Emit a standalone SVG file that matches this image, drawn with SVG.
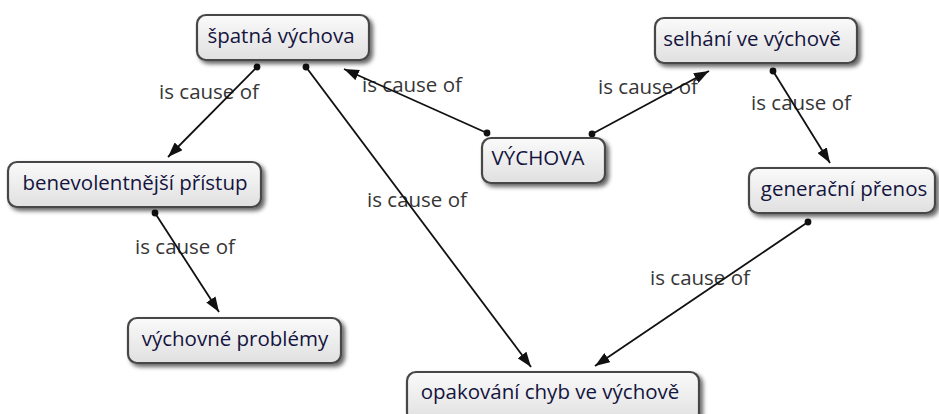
<svg xmlns="http://www.w3.org/2000/svg" width="939" height="414" viewBox="0 0 939 414">
<style>
.box{fill:url(#g);stroke:#474747;stroke-width:2.2;filter:url(#sh)}
.nt{font-family:"Open Sans","DejaVu Sans",sans-serif;font-size:20.5px;fill:#14143e;text-anchor:middle}
.lt{font-family:"Open Sans","DejaVu Sans",sans-serif;font-size:20.5px;fill:#363636;text-anchor:middle}
.ln{stroke:#111;stroke-width:1.8;fill:none;marker-end:url(#ah);marker-start:url(#dot)}
</style>
<defs>
<linearGradient id="g" x1="0" y1="0" x2="0" y2="1">
<stop offset="0" stop-color="#fafafa"/>
<stop offset="1" stop-color="#e0e0e0"/>
</linearGradient>
<filter id="sh" x="-10%" y="-20%" width="125%" height="160%">
<feDropShadow dx="3" dy="3" stdDeviation="2" flood-color="#000" flood-opacity="0.6"/>
</filter>
<marker id="ah" viewBox="0 0 15 11" refX="15" refY="5.5" markerWidth="15" markerHeight="11" markerUnits="userSpaceOnUse" orient="auto">
<path d="M0,0 L15,5.5 L0,11 z" fill="#111"/>
</marker>
<marker id="dot" viewBox="0 0 8 8" refX="4" refY="4" markerWidth="8" markerHeight="8" markerUnits="userSpaceOnUse">
<circle cx="4" cy="4" r="3.4" fill="#111"/>
</marker>
</defs>
<rect width="939" height="414" fill="#fff"/>
<g id="labels">
<text class="lt" x="209" y="99">is cause of</text>
<text class="lt" x="412" y="92">is cause of</text>
<text class="lt" x="648" y="94">is cause of</text>
<text class="lt" x="801" y="110">is cause of</text>
<text class="lt" x="417" y="207">is cause of</text>
<text class="lt" x="185" y="254">is cause of</text>
<text class="lt" x="700" y="285">is cause of</text>
</g>
<g id="connectors">
<line class="ln" x1="257" y1="67" x2="168" y2="157"/>
<line class="ln" x1="306" y1="67" x2="531" y2="367"/>
<line class="ln" x1="487" y1="133" x2="344" y2="69"/>
<line class="ln" x1="592" y1="134" x2="709" y2="71"/>
<line class="ln" x1="773" y1="71" x2="830" y2="163"/>
<line class="ln" x1="155" y1="213" x2="219" y2="312"/>
<line class="ln" x1="808" y1="222" x2="595" y2="366"/>
</g>
<g id="n-spatna"><rect class="box" x="197" y="15" width="172" height="45" rx="9"/><text class="nt" x="281" y="43">špatná výchova</text></g>
<g id="n-vychova"><rect class="box" x="482" y="138" width="123" height="45" rx="9"/><text class="nt" x="538" y="165">VÝCHOVA</text></g>
<g id="n-selhani"><rect class="box" x="655" y="18" width="202" height="45" rx="9"/><text class="nt" x="752" y="46">selhání ve výchově</text></g>
<g id="n-generacni"><rect class="box" x="749" y="168" width="186" height="45" rx="9"/><text class="nt" x="844" y="196">generační přenos</text></g>
<g id="n-benevolentnejsi"><rect class="box" x="8" y="162" width="253" height="45" rx="9"/><text class="nt" x="135" y="190">benevolentnější přístup</text></g>
<g id="n-problemy"><rect class="box" x="128" y="318" width="213" height="45" rx="9"/><text class="nt" x="235" y="346">výchovné problémy</text></g>
<g id="n-opakovani"><rect class="box" x="407" y="372" width="292" height="50" rx="9"/><text class="nt" x="550" y="399">opakování chyb ve výchově</text></g>
</svg>
